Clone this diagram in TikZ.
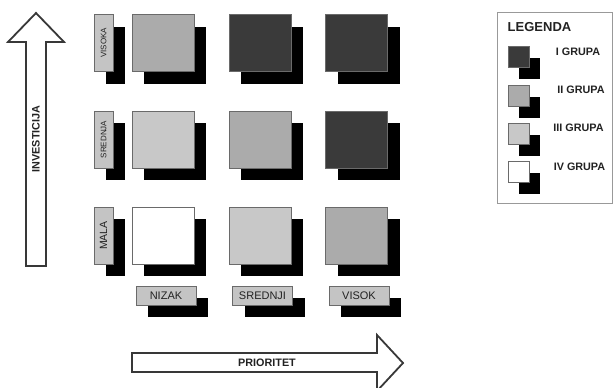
\documentclass[tikz,border=0pt]{standalone}
\usepackage{fontspec}
\usepackage{graphicx}
\setmainfont{Liberation Sans}
\usetikzlibrary{shadows}
\definecolor{gdark}{HTML}{3A3A3A}
\definecolor{gmid}{HTML}{ABABAB}
\definecolor{glight}{HTML}{C8C8C8}
\definecolor{glabel}{HTML}{C4C4C4}
\definecolor{gedge}{HTML}{6A6A6A}
\definecolor{gtext}{HTML}{222222}
\tikzset{
  shad/.style={drop shadow={shadow xshift=12pt,shadow yshift=-12pt,fill=black,opacity=1}},
  cell/.style={draw=gedge,line width=0.8pt,minimum width=62pt,minimum height=57pt,inner sep=0pt,outer sep=0pt,shad},
  rowlab/.style={draw=gedge,line width=0.8pt,fill=glabel,minimum width=19pt,minimum height=57pt,inner sep=0pt,text=gtext,shad},
  collab/.style={draw=gedge,line width=0.8pt,fill=glabel,minimum width=60pt,minimum height=19pt,inner sep=0pt,text=gtext,font=\fontsize{11}{12}\selectfont,shad},
  legsq/.style={draw=gedge,line width=0.8pt,minimum width=21pt,minimum height=21pt,inner sep=0pt,drop shadow={shadow xshift=11pt,shadow yshift=-11pt,fill=black,opacity=1}},
  legtxt/.style={font=\bfseries\fontsize{10.8}{12}\selectfont,text=gtext,inner sep=0pt},
  bigarrow/.style={draw=gtext!90,line width=1.8pt,fill=white,line join=miter},
}
\begin{document}
\begin{tikzpicture}[x=1pt,y=-1pt]
\useasboundingbox (0,0) rectangle (613,388);
% axis arrows
\draw[bigarrow] (26,266) -- (26,42) -- (8,42) -- (36,13) -- (64,42) -- (46,42) -- (46,266) -- cycle;
\node[legtxt,rotate=90] (inv) at (36,139) {INVESTICIJA};
\draw[bigarrow] (132,353) -- (377,353) -- (377,335) -- (403,363) -- (377,391) -- (377,372) -- (132,372) -- cycle;
\node[legtxt] (pri) at (267,362.5) {PRIORITET};
% row labels
\node[rowlab,font=\fontsize{8}{9}\selectfont] (rv) at (103.5,43) {\rotatebox{90}{VISOKA}};
\node[rowlab,font=\fontsize{8}{9}\selectfont] (rs) at (103.5,139.5) {\rotatebox{90}{SREDNJA}};
\node[rowlab,font=\fontsize{10.5}{12}\selectfont] (rm) at (103.5,235.5) {\rotatebox{90}{MALA}};
% cells
\node[cell,fill=gmid]  (c11) at (163,43) {};
\node[cell,fill=gdark] (c12) at (260,43) {};
\node[cell,fill=gdark] (c13) at (356.5,43) {};
\node[cell,fill=glight] (c21) at (163,139.5) {};
\node[cell,fill=gmid]   (c22) at (260,139.5) {};
\node[cell,fill=gdark]  (c23) at (356.5,139.5) {};
\node[cell,fill=white]  (c31) at (163,235.5) {};
\node[cell,fill=glight] (c32) at (260,235.5) {};
\node[cell,fill=gmid]   (c33) at (356.5,235.5) {};
% column labels
\node[collab] (ln) at (166,295.5) {NIZAK};
\node[collab] (ls) at (262.5,295.5) {SREDNJI};
\node[collab] (lv) at (359,295.5) {VISOK};
% legend
\draw[draw=gray!80,line width=0.8pt] (497,12) rectangle (612,203);
\node[font=\bfseries\fontsize{13}{14}\selectfont,text=gtext,inner sep=0pt] (leg) at (539.5,27.5) {LEGENDA};
\node[legsq,fill=gdark]  (s1) at (518.5,57) {};
\node[legsq,fill=gmid]   (s2) at (518.5,96) {};
\node[legsq,fill=glight] (s3) at (518.5,134) {};
\node[legsq,fill=white]  (s4) at (518.5,172) {};
\node[legtxt] (t1) at (578,52) {I GRUPA};
\node[legtxt] (t2) at (581,90) {II GRUPA};
\node[legtxt] (t3) at (578.5,128) {III GRUPA};
\node[legtxt] (t4) at (579.5,167) {IV GRUPA};
\end{tikzpicture}
\end{document}
